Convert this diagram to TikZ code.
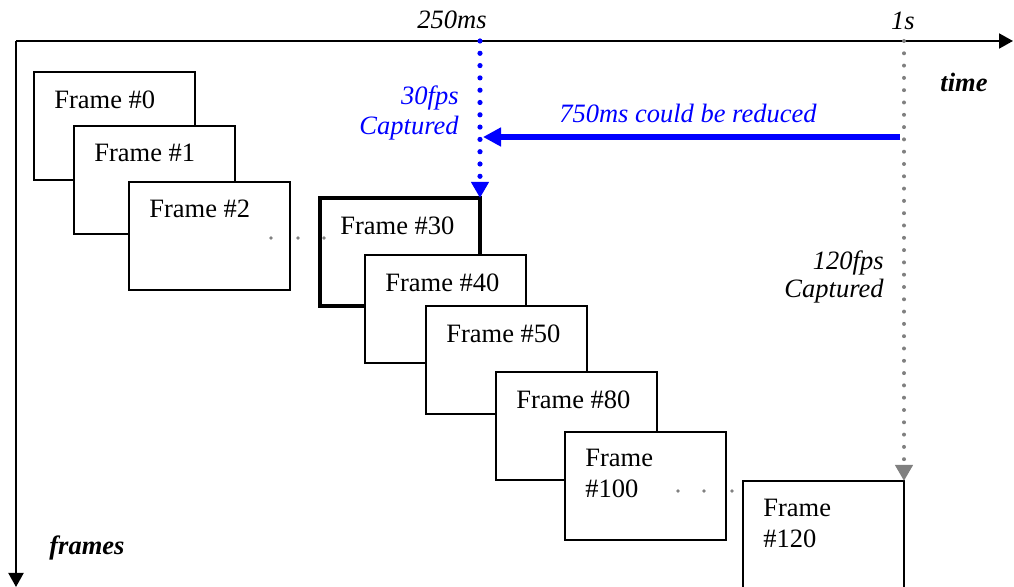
\documentclass[tikz,border=0pt]{standalone}
\usepackage{fontspec}
\setmainfont{Liberation Serif}
\usetikzlibrary{arrows.meta}
\definecolor{pureblue}{RGB}{0,0,255}
\definecolor{dotgray}{RGB}{128,128,128}
\begin{document}
\begin{tikzpicture}[x=0.5pt,y=-0.5pt,
  frame/.style={draw, fill=white, line width=1pt, minimum width=80.5pt, minimum height=54pt, anchor=north west, inner sep=0pt, outer sep=0pt},
  thickframe/.style={frame, line width=2pt, minimum width=80pt},
  flabel/.style={anchor=north west, inner sep=0pt, align=left, font=\fontsize{13.25}{15.5}\selectfont},
  ital/.style={inner sep=0pt, font=\fontsize{13.25}{15}\selectfont\itshape},
  bital/.style={inner sep=0pt, font=\fontsize{13.25}{15}\selectfont\bfseries\itshape},
  axis/.style={line width=1pt, -{Triangle[length=7pt,width=7.5pt]}},
  bluedots/.style={pureblue, line width=2.6pt, line cap=round, dash pattern=on 0pt off 6.15pt, -{Triangle[length=8pt,width=8.5pt]}},
  graydots/.style={dotgray, line width=2pt, line cap=round, dash pattern=on 0pt off 6.15pt, -{Triangle[length=8pt,width=8.5pt]}},
  reduce/.style={pureblue, line width=3pt, -{Triangle[length=9pt,width=9pt]}},
  ell/.style={fill=dotgray}
]
\clip (0,0) rectangle (1014,587);
% axes
\coordinate (o) at (16,41);
\coordinate (tx) at (1013,41);
\coordinate (fy) at (16,587);
\draw[axis] (o) -- (tx);
\draw[axis] (o) -- (fy);
% frames
\node[frame] (f0) at (34,72) {};
\node[flabel] (l0) at ([shift={(20,18)}]f0.north west) {Frame \#0};
\node[frame] (f1) at (74,126) {};
\node[flabel] (l1) at ([shift={(20,18)}]f1.north west) {Frame \#1};
\node[frame] (f2) at (129,182) {};
\node[flabel] (l2) at ([shift={(20,18)}]f2.north west) {Frame \#2};
\node[thickframe] (f30) at (320,198) {};
\node[flabel] (l30) at ([shift={(20,18)}]f30.north west) {Frame \#30};
\node[frame] (f40) at (365,255) {};
\node[flabel] (l40) at ([shift={(20,18)}]f40.north west) {Frame \#40};
\node[frame] (f50) at (426,306) {};
\node[flabel] (l50) at ([shift={(20,18)}]f50.north west) {Frame \#50};
\node[frame] (f80) at (496,372) {};
\node[flabel] (l80) at ([shift={(20,18)}]f80.north west) {Frame \#80};
\node[frame] (f100) at (565,432) {};
\node[flabel] (l100) at ([shift={(20,17)}]f100.north west) {Frame\\\#100};
\node[frame] (f120) at (743,481) {};
\node[flabel] (l120) at ([shift={(20,18)}]f120.north west) {Frame\\\#120};
% ellipses
\foreach \x in {271,298,324} \fill[ell] (\x,238) circle (0.9pt);
\foreach \x in {678,704,732} \fill[ell] (\x,491) circle (0.9pt);
% time marks
\coordinate (t250) at (480,41);
\coordinate (t1s) at (904,41);
\draw[bluedots] (t250) -- (f30.north east);
\draw[graydots] (t1s) -- (f120.north east);
\coordinate (r1) at (900,137);
\coordinate (r2) at (483,137);
\draw[reduce] (r1) -- (r2);
% labels
\node[ital, anchor=base east] (lab250) at (487,29) {250ms};
\node[ital, anchor=base east] (lab1s) at (915,30) {1s};
\node[bital, anchor=base west] (labtime) at (940,92) {time};
\node[bital, anchor=base west] (labframes) at (49,555) {frames};
\node[ital, text=pureblue, anchor=base east] (labred) at (817,123) {750ms could be reduced};
\node[ital, text=pureblue, align=right, anchor=north east] (lab30) at (459,85) {30fps\\Captured};
\node[ital, align=right, anchor=north east, font=\fontsize{13.25}{14}\selectfont\itshape] (lab120) at (884,250) {120fps\\Captured};
\end{tikzpicture}
\end{document}
